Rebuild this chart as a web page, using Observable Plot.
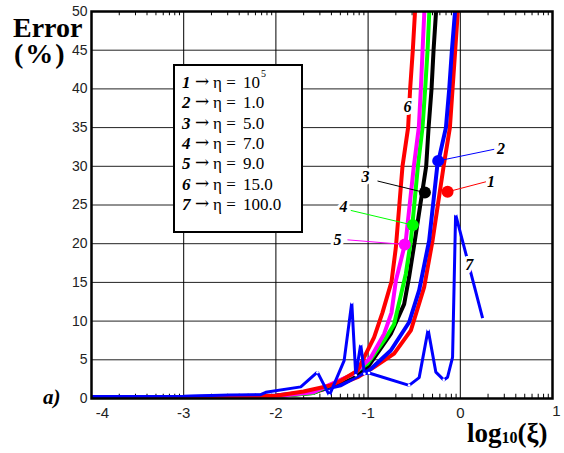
<!DOCTYPE html>
<html><head><meta charset="utf-8">
<script src="https://cdn.jsdelivr.net/npm/d3@7"></script>
<script src="https://cdn.jsdelivr.net/npm/@observablehq/plot@0.6"></script>
<style>html,body{margin:0;padding:0;background:#fff;} svg{display:block}</style>
</head><body><div id="chart"></div>
<script>
// ---- data ----
const xTicks = [-4, -3, -2, -1, 0, 1];
const yTicks = [0, 5, 10, 15, 20, 25, 30, 35, 40, 45, 50];
const curveIds = ["1", "2", "3", "4", "5", "6", "7"];
const etaValues = ["10", "1.0", "5.0", "7.0", "9.0", "15.0", "100.0"];
const etaSup = ["5", "", "", "", "", "", ""];

const curve1 = [[-4,0.1],[-3,0.15],[-2.5,0.2],[-2,0.35],[-1.73,0.6],[-1.586,0.8],[-1.296,1.9],[-1.115,2.75],[-0.935,4.05],[-0.718,5.8],[-0.536,8.8],[-0.392,14.4],[-0.301,20.4],[-0.181,30],[-0.113,35],[-0.084,40],[-0.055,45],[-0.027,50]];
const curve2 = [[-4,0.15],[-3,0.2],[-2,0.4],[-1.6,0.9],[-1.296,1.7],[-0.971,3.8],[-0.754,6.2],[-0.555,9.85],[-0.446,14.0],[-0.338,20.4],[-0.25,30],[-0.156,35],[-0.120,40],[-0.091,45],[-0.057,50]];
const curve3 = [[-4,0.05],[-3,0.1],[-2,0.3],[-1.6,0.7],[-1.152,3.0],[-0.989,4.3],[-0.754,8.35],[-0.609,12.2],[-0.555,15.7],[-0.493,20.4],[-0.37,30],[-0.344,35],[-0.312,40],[-0.290,45],[-0.263,50]];
const curve4 = [[-4,0.05],[-3,0.1],[-2,0.3],[-1.6,0.7],[-1.2,2.9],[-1.006,4.5],[-0.826,7.5],[-0.718,9.6],[-0.591,16.1],[-0.536,20.4],[-0.46,30],[-0.41,35],[-0.381,40],[-0.355,45],[-0.336,50]];
const curve5 = [[-4,0.05],[-3,0.1],[-2,0.3],[-1.6,0.8],[-1.152,3.2],[-0.971,5.3],[-0.826,8.35],[-0.746,11.1],[-0.699,15.2],[-0.645,17.8],[-0.591,20.4],[-0.504,30],[-0.45,35],[-0.428,40],[-0.409,45],[-0.39,50]];
const curve6 = [[-4,0.1],[-3,0.15],[-2,0.35],[-1.7,0.9],[-1.405,1.7],[-1.296,2.3],[-1.115,3.6],[-0.935,7.9],[-0.844,11.1],[-0.746,15.1],[-0.699,19.5],[-0.627,30],[-0.566,35],[-0.544,40],[-0.515,45],[-0.491,50]];
const curve7 = [[-4,0.25],[-3,0.3],[-2.5,0.45],[-2.165,0.5],[-2.11,0.8],[-1.73,1.5],[-1.55,3.4],[-1.42,0.4],[-1.26,4.9],[-1.177,12.4],[-1.134,3.0],[-1.08,7.0],[-1.04,3.2],[-0.99,3.3],[-0.555,1.7],[-0.446,2.7],[-0.349,8.9],[-0.265,3.4],[-0.18,2.4],[-0.138,2.75],[-0.084,5.3],[-0.051,23.8],[0.242,10.4]];

const markers = [
  {id: "1", x: -0.138, y: 26.7},
  {id: "2", x: -0.24, y: 30.7},
  {id: "3", x: -0.384, y: 26.6},
  {id: "4", x: -0.515, y: 22.4},
  {id: "5", x: -0.602, y: 19.9}
];
const leaderEnds = [
  {id: "1", x: 0.278, y: 28.0},
  {id: "2", x: 0.368, y: 32.2},
  {id: "3", x: -0.898, y: 28.1},
  {id: "4", x: -1.188, y: 24.3},
  {id: "5", x: -1.224, y: 20.5}
];
const labels = [
  {id: "1", x: 0.333, y: 28.0},
  {id: "2", x: 0.441, y: 32.3},
  {id: "3", x: -1.028, y: 28.6},
  {id: "4", x: -1.268, y: 24.7},
  {id: "5", x: -1.333, y: 20.5},
  {id: "6", x: -0.573, y: 37.7},
  {id: "7", x: 0.096, y: 17.2}
];

// ---- styles ----
const colors = {"1": "#ff0000", "2": "#0000ff", "3": "#000000", "4": "#00ff00", "5": "#ff00ff", "6": "#ff0000", "7": "#0000ff"};
const curves = [curve1, curve2, curve3, curve4, curve5, curve6, curve7];
const serif = "'Liberation Serif', 'Times New Roman', serif";
const sans = "'Liberation Sans', Arial, sans-serif";

// minor log ticks within each decade
const minorTicks = [];
for (let n = -4; n < 1; n++) for (let k = 2; k <= 9; k++) minorTicks.push(n + Math.log10(k));

// local extrema of curve 7 (small white markers)
const peaks7 = curve7.filter((p, i) => i > 0 && i < curve7.length - 1 &&
  ((p[1] - curve7[i-1][1]) * (curve7[i+1][1] - p[1]) < 0) && p[0] > -1.6);

const lineMarks = curves.map((c, i) => Plot.line(c, {
  x: d => d[0], y: d => d[1],
  stroke: colors[curveIds[i]],
  strokeWidth: i === 6 ? 3 : 4,
  strokeLinejoin: "miter", strokeLinecap: "butt",
  clip: true
}));

const plot = Plot.plot({
  width: 564, height: 453,
  marginLeft: 91, marginRight: 12, marginTop: 11, marginBottom: 55,
  x: {domain: [-4, 1], axis: null},
  y: {domain: [0, 50], axis: null},
  style: {background: "white", overflow: "visible"},
  marks: [
    Plot.ruleY(yTicks.slice(1, -1), {stroke: "#222", strokeWidth: 1}),
    Plot.ruleX(xTicks.slice(1, -1), {stroke: "#000", strokeWidth: 1}),
    Plot.ruleX(minorTicks, {y1: 0, y2: 0.55, stroke: "#000", strokeWidth: 1}),
    Plot.ruleX(minorTicks, {y1: 49.45, y2: 50, stroke: "#000", strokeWidth: 1}),
    ...lineMarks,
    Plot.dot(peaks7, {x: d => d[0], y: d => d[1], r: 1.3, fill: "white", stroke: "none"}),
    Plot.link(markers, {
      x1: d => d.x, y1: d => d.y,
      x2: d => leaderEnds.find(e => e.id === d.id).x,
      y2: d => leaderEnds.find(e => e.id === d.id).y,
      stroke: d => colors[d.id], strokeWidth: 1
    }),
    Plot.dot(markers, {x: "x", y: "y", r: 6, fill: d => colors[d.id], stroke: "none"}),
    Plot.text(labels, {x: "x", y: "y", text: "id", fontFamily: serif, fontSize: 16,
      fontWeight: "bold", fontStyle: "italic", fill: "black", stroke: "white", strokeWidth: 6}),
    Plot.frame({stroke: "black", strokeWidth: 2.5}),
    // axis tick labels
    Plot.text(yTicks, {x: -4, y: d => d, text: d => String(d), dx: -4, textAnchor: "end",
      fontFamily: sans, fontSize: 14, fill: "#222"}),
    Plot.text(xTicks.filter(d => d > -4 && d < 1), {x: d => d, y: 0, dy: 15, text: d => String(d),
      fontFamily: sans, fontSize: 15, fill: "#222"}),
    Plot.text([xTicks[0]], {x: d => d, y: 0, dy: 15, dx: 11, text: d => String(d),
      fontFamily: sans, fontSize: 15, fill: "#222"}),
    Plot.text([xTicks[xTicks.length - 1]], {x: d => d, y: 0, dy: 13, dx: 4, text: d => String(d),
      fontFamily: sans, fontSize: 15, fill: "#222"})
  ]
});

const svg = d3.select(plot);
const ov = svg.append("g").attr("text-anchor", "start").attr("font-family", serif).attr("fill", "black");

// axis titles
ov.append("text").attr("x", 13).attr("y", 37)
  .attr("font-weight", "bold").attr("font-size", 28).text("Error");
ov.append("text").attr("x", 14).attr("y", 63).attr("letter-spacing", 2)
  .attr("font-weight", "bold").attr("font-size", 28).text("(%)");
ov.append("text").attr("x", 43).attr("y", 404)
  .attr("font-weight", "bold").attr("font-style", "italic")
  .attr("font-size", 21).text("a)");
const xl = ov.append("text").attr("x", 467).attr("y", 442).attr("font-weight", "bold");
xl.append("tspan").attr("font-size", 27).text("log");
xl.append("tspan").attr("font-size", 16).attr("dy", 1).text("10");
xl.append("tspan").attr("font-size", 27).attr("dy", -1).text("(ξ)");

// legend box
const lg = ov.append("g");
lg.append("rect").attr("x", 174).attr("y", 65).attr("width", 128).attr("height", 167)
  .attr("fill", "white").attr("stroke", "black").attr("stroke-width", 2);
curveIds.forEach((id, i) => {
  const by = 88 + i * 20.3;
  lg.append("text").attr("x", 182).attr("y", by)
    .attr("font-size", 17).attr("font-weight", "bold").attr("font-style", "italic").text(id);
  lg.append("text").attr("x", 195).attr("y", by - 1).attr("font-size", 17)
    .attr("font-family", "'DejaVu Serif', serif").attr("textLength", 15).text("→");
  lg.append("text").attr("x", 213).attr("y", by).attr("font-size", 17).text("η =");
  lg.append("text").attr("x", 243).attr("y", by).attr("font-size", 17).text(etaValues[i]);
  if (etaSup[i]) lg.append("text").attr("x", 261).attr("y", by - 11)
    .attr("font-size", 10).text(etaSup[i]);
});

document.getElementById("chart").appendChild(plot);
</script>
</body></html>
